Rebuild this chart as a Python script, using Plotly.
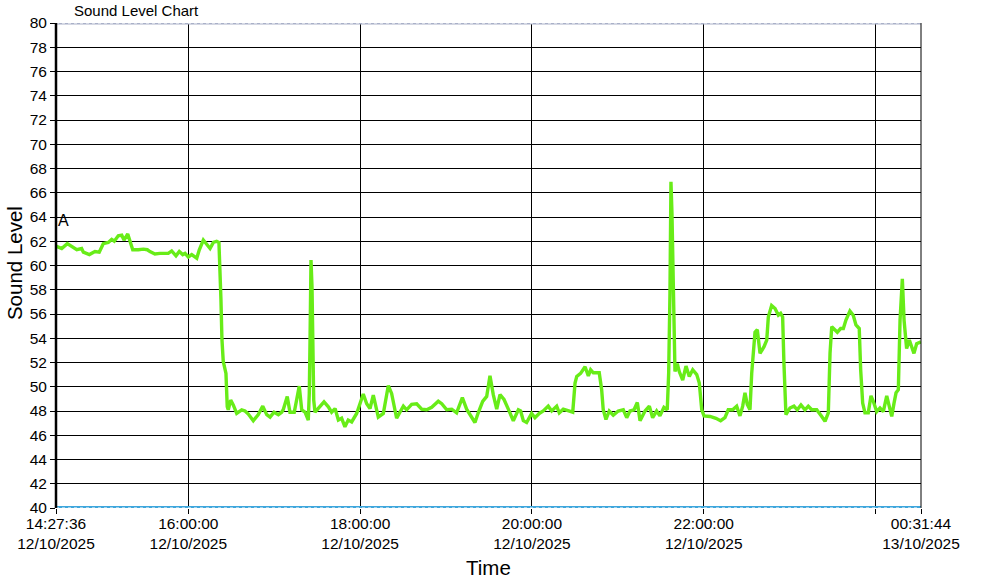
import datetime as dt
import plotly.graph_objects as go

START = "2025-10-12 14:27:36"
END = "2025-10-13 00:31:44"

# elapsed minutes since START
minutes = [0, 4.0, 7.9, 12.1, 14.5, 17.9, 19.1, 23.3, 27.2, 30.2, 33.0, 36.5, 38.9, 40.7, 43.5, 45.9, 47.5, 50.1, 51.7, 53.6,
           57.5, 61.0, 63.8, 65.6, 69.1, 72.6, 78.4, 80.8, 83.8, 86.1, 88.5, 90.1, 92.4, 94.8, 98.3, 100.1, 102.9, 105.2, 107.6, 109.9,
           112.2, 113.8, 114.5, 115.2, 115.9, 116.8, 118.7, 119.6, 120.3, 122.0, 123.8, 126.2, 129.7, 132.0, 134.3, 137.8, 141.3, 144.4, 147.2, 149.5,
           152.3, 155.3, 157.6, 158.7, 161.5, 163.4, 166.4, 168.1, 169.9, 171.6, 173.9, 176.2, 176.9, 177.4, 178.1, 178.8, 179.3, 180.0, 180.9, 183.9,
           187.2, 190.2, 192.5, 194.9, 197.2, 199.5, 201.8, 204.1, 206.5, 210.0, 214.6, 217.0, 219.3, 221.6, 225.1, 228.6, 232.1, 234.4, 237.9, 240.2,
           242.6, 244.9, 248.4, 251.9, 255.4, 258.9, 262.4, 267.0, 269.4, 272.9, 276.4, 279.8, 283.8, 286.8, 289.6, 292.6, 294.9, 298.0, 300.8, 303.1,
           305.4, 307.8, 310.1, 312.9, 315.9, 319.4, 322.9, 324.5, 326.4, 328.7, 332.2, 334.5, 337.5, 340.3, 343.8, 346.2, 349.7, 351.5, 354.3, 357.8,
           360.9, 362.5, 363.7, 366.4, 369.5, 371.8, 373.4, 375.3, 379.4, 381.1, 382.2, 384.1, 386.4, 389.2, 392.7, 396.2, 398.6, 400.9, 403.7, 406.0,
           407.9, 411.4, 414.4, 416.7, 419.5, 421.8, 424.6, 426.9, 427.9, 428.8, 429.5, 430.2, 431.1, 431.8, 432.3, 433.9, 435.3, 437.7, 440.0, 442.3,
           444.7, 447.5, 449.3, 451.0, 452.6, 456.8, 460.9, 464.2, 467.2, 469.5, 472.6, 475.4, 477.7, 479.6, 481.2, 482.8, 484.7, 485.9, 487.0, 488.2,
           489.8, 491.7, 494.5, 496.4, 497.5, 499.8, 502.2, 504.5, 506.1, 507.5, 508.4, 509.8, 512.6, 515.4, 517.7, 520.3, 523.1, 525.4, 527.8, 531.3,
           534.8, 537.1, 539.4, 540.6, 541.8, 544.1, 545.7, 548.0, 549.9, 551.7, 554.5, 556.8, 558.7, 561.0, 562.0, 563.4, 565.0, 567.3, 569.2, 570.8,
           573.2, 575.5, 577.8, 580.2, 582.0, 583.7, 585.3, 586.7, 588.3, 589.5, 591.1, 592.3, 594.1, 596.0, 597.6, 599.2, 601.1, 604.1]

levels = [61.6, 61.4, 61.8, 61.5, 61.3, 61.4, 61.1, 60.9, 61.15, 61.1, 61.8, 61.9, 62.15, 62.0, 62.45, 62.5, 62.1, 62.6, 62.0, 61.3,
          61.3, 61.35, 61.3, 61.15, 60.95, 61.0, 61.0, 61.2, 60.8, 61.15, 60.9, 61.0, 60.7, 60.9, 60.6, 61.3, 62.1, 61.8, 61.4, 61.9,
          62.0, 61.9, 60.2, 57.2, 53.9, 52.1, 51.1, 48.35, 48.1, 48.9, 48.5, 47.8, 48.1, 48.0, 47.75, 47.2, 47.7, 48.4, 47.7, 47.5,
          47.9, 47.7, 47.9, 48.1, 49.2, 47.9, 47.9, 48.8, 50.05, 48.1, 47.9, 47.25, 49.45, 53.6, 60.45, 58.25, 53.85, 48.9, 47.9, 48.35,
          48.75, 48.35, 47.9, 48.2, 47.25, 47.4, 46.7, 47.25, 47.1, 47.8, 49.4, 48.6, 48.2, 49.3, 47.5, 47.8, 50.1, 49.45, 47.4, 47.9,
          48.4, 48.1, 48.55, 48.6, 48.15, 48.1, 48.3, 48.8, 48.6, 48.1, 48.15, 47.85, 49.1, 48.15, 47.6, 47.05, 47.85, 48.8, 49.2, 50.9,
          49.35, 48.15, 49.35, 48.95, 48.15, 47.2, 48.1, 48.0, 47.2, 47.05, 47.8, 47.45, 47.8, 48.0, 48.4, 48.0, 48.4, 47.85, 48.15, 48.0,
          47.9, 50.3, 50.85, 51.1, 51.65, 50.9, 51.4, 51.15, 51.15, 49.75, 48.1, 47.3, 48.0, 47.65, 48.0, 48.1, 47.45, 48.0, 48.1, 48.7,
          47.2, 48.0, 48.4, 47.45, 48.0, 47.6, 48.3, 48.1, 51.1, 57.7, 66.9, 64.3, 58.25, 51.65, 51.25, 51.9, 51.25, 50.55, 51.7, 50.85,
          51.4, 51.0, 50.3, 48.1, 47.6, 47.55, 47.4, 47.2, 47.45, 48.1, 48.1, 48.4, 47.6, 48.4, 49.5, 48.55, 48.1, 51.1, 52.75, 54.5,
          54.7, 52.75, 53.3, 53.85, 55.75, 56.7, 56.45, 55.9, 56.05, 55.75, 51.95, 47.7, 48.25, 48.4, 48.1, 48.5, 48.1, 48.4, 48.1, 48.1,
          47.55, 47.15, 47.85, 52.75, 54.95, 54.65, 54.5, 54.8, 54.8, 55.5, 56.25, 55.9, 55.1, 54.8, 51.4, 48.65, 47.85, 47.85, 49.25, 48.8,
          47.95, 48.25, 47.95, 49.25, 48.5, 47.55, 48.65, 49.5, 49.75, 55.5, 58.9, 55.5, 53.15, 53.85, 53.3, 52.75, 53.55, 53.7]

tick_times = ["2025-10-12 14:27:36", "2025-10-12 16:00:00", "2025-10-12 18:00:00", "2025-10-12 20:00:00",
              "2025-10-12 22:00:00", "2025-10-13 00:00:00", "2025-10-13 00:31:44"]
tick_labels = ["14:27:36<br>12/10/2025", "16:00:00<br>12/10/2025", "18:00:00<br>12/10/2025", "20:00:00<br>12/10/2025",
               "22:00:00<br>12/10/2025", "", "00:31:44<br>13/10/2025"]
y_ticks = list(range(40, 81, 2))

t0 = dt.datetime.strptime(START, "%Y-%m-%d %H:%M:%S")
times = [t0 + dt.timedelta(minutes=m) for m in minutes]

FONT = "Liberation Sans, Arial, sans-serif"

fig = go.Figure()
fig.add_trace(go.Scatter(x=times, y=levels, mode="lines",
                         line=dict(color="#68ec18", width=3.4), hoverinfo="skip"))

fig.update_layout(
    width=990, height=588,
    margin=dict(l=56, r=69, t=23, b=80, autoexpand=False),
    paper_bgcolor="white", plot_bgcolor="white",
    showlegend=False,
    font=dict(family=FONT, size=15.5, color="black"),
    xaxis=dict(
        range=[START, END], type="date", automargin=False,
        tickmode="array", tickvals=tick_times, ticktext=tick_labels,
        showgrid=True, gridcolor="black", gridwidth=1,
        ticks="outside", ticklen=5, tickcolor="black", tickwidth=1,
        ticklabelstandoff=-4,
        tickfont=dict(size=15.5, family=FONT),
        showline=False, zeroline=False,
    ),
    yaxis=dict(
        range=[40, 80], tickmode="array", tickvals=y_ticks, automargin=False,
        showgrid=True, gridcolor="black", gridwidth=1,
        ticks="outside", ticklen=5, tickcolor="black", tickwidth=1,
        tickfont=dict(size=15.5, family=FONT),
        showline=False, zeroline=False,
    ),
    shapes=[
        dict(type="line", xref="paper", yref="y", x0=0, x1=1, y0=80, y1=80,
             line=dict(color="#a9b0c8", width=3), layer="above"),
        dict(type="line", xref="paper", yref="y", x0=0, x1=1, y0=80, y1=80,
             line=dict(color="white", width=1, dash="dot"), layer="above"),
        dict(type="line", xref="paper", yref="y", x0=0, x1=1, y0=40, y1=40,
             line=dict(color="#3ea6dc", width=4), layer="above"),
        dict(type="line", xref="paper", yref="y", x0=0, x1=1, y0=40, y1=40,
             line=dict(color="white", width=1, dash="dot"), layer="above"),
        dict(type="line", xref="paper", yref="paper", x0=0, x1=0, y0=0, y1=1,
             line=dict(color="black", width=2.5), layer="above"),
        dict(type="line", xref="paper", yref="paper", x0=1, x1=1, y0=0, y1=1,
             line=dict(color="black", width=1), layer="above"),
    ],
    annotations=[
        dict(text="Sound Level Chart", xref="paper", yref="paper", x=0.019, y=1.0,
             xanchor="left", yanchor="middle", yshift=13, showarrow=False,
             font=dict(size=15, family=FONT)),
        dict(text="A", xref="paper", yref="y", x=0.0, y=63.7,
             xanchor="left", yanchor="middle", showarrow=False,
             font=dict(size=16, family=FONT)),
        dict(text="Time", xref="paper", yref="paper", x=0.5, y=0, yshift=-59,
             xanchor="center", yanchor="middle", showarrow=False,
             font=dict(size=20.5, family=FONT)),
        dict(text="Sound Level", xref="paper", yref="paper", x=0, xshift=-42, y=0.505,
             xanchor="center", yanchor="middle", textangle=-90, showarrow=False,
             font=dict(size=20.5, family=FONT)),
    ],
)

fig.write_html("out.html", config={"displayModeBar": False},
               post_script="document.body.style.margin='0';document.body.style.padding='0';")
